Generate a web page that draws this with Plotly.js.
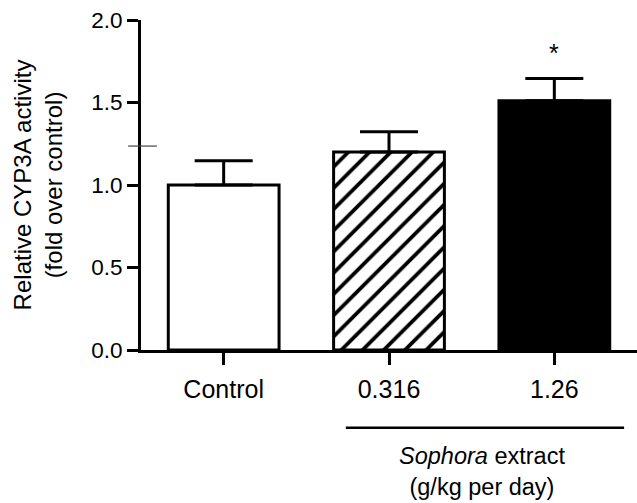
<!DOCTYPE html>
<html>
<head>
<meta charset="utf-8">
<script src="https://cdn.plot.ly/plotly-3.0.1.min.js"></script>
<style>html,body{margin:0;padding:0;background:#fff;}</style>
</head>
<body>
<div id="chart" style="width:637px;height:503px;"></div>
<script>
// ---- data ----
var categories = ['Control', '0.316', '1.26'];
var activity = [1.0, 1.2, 1.51];
var errorUpper = [0.147, 0.122, 0.136];
var fillColors = ['#ffffff', '#ffffff', '#000000'];
var patterns = ['', '/', ''];
var yTickVals = [0, 0.5, 1.0, 1.5, 2.0];
var yTickText = ['0.0', '0.5', '1.0', '1.5', '2.0'];
var significance = ['', '', '*'];

var FONT = 'Arial, "Liberation Sans", Helvetica, sans-serif';
var FS = 24;

var traces = [];
for (var k = 0; k < categories.length; k++) {
  var mk = {
    color: fillColors[k],
    line: {color: '#000', width: 3}
  };
  if (patterns[k]) {
    mk.pattern = {shape: patterns[k], fgcolor: '#000000', bgcolor: fillColors[k], size: 15, solidity: 0.25, fillmode: 'replace'};
  }
  traces.push({
    type: 'bar',
    x: [categories[k]],
    y: [activity[k]],
    width: 0.67,
    marker: mk,
    error_y: {
      type: 'data', symmetric: false,
      array: [errorUpper[k]], arrayminus: [0],
      color: '#000', thickness: 3, width: 29
    },
    hoverinfo: 'none',
    showlegend: false
  });
}

var annotations = [];
for (var i = 0; i < categories.length; i++) {
  if (significance[i]) {
    annotations.push({
      x: i, y: activity[i] + errorUpper[i], xref: 'x', yref: 'y',
      text: significance[i], showarrow: false, yanchor: 'bottom', yshift: 9,
      font: {family: FONT, size: 25, color: '#000'}
    });
  }
}
annotations.push({
  xref: 'paper', yref: 'paper', x: 0.6875, y: -0.369,
  xanchor: 'center', yanchor: 'middle', showarrow: false,
  text: '<i>Sophora</i> extract<br>(g/kg per day)',
  font: {family: FONT, size: 23.5, color: '#000'}
});

var layout = {
  width: 637, height: 503,
  margin: {l: 141, r: 0, t: 20, b: 153, pad: 0},
  paper_bgcolor: '#fff', plot_bgcolor: '#fff',
  font: {family: FONT, size: FS, color: '#000'},
  barmode: 'overlay',
  xaxis: {
    type: 'category', range: [-0.5, 2.5], categoryorder: 'array', categoryarray: categories,
    showline: true, linecolor: '#000', linewidth: 3,
    ticks: 'outside', ticklen: 12, tickwidth: 3, tickcolor: '#000',
    showgrid: false, zeroline: false,
    tickfont: {family: FONT, size: 25, color: '#000'},
    ticklabelstandoff: 3,
    fixedrange: true
  },
  yaxis: {
    range: [0, 2], tickvals: yTickVals, ticktext: yTickText,
    showline: true, linecolor: '#000', linewidth: 3,
    ticks: 'outside', ticklen: 11, tickwidth: 3, tickcolor: '#000',
    showgrid: false, zeroline: false,
    tickfont: {family: FONT, size: 22.5, color: '#000'},
    title: {text: 'Relative CYP3A activity<br>(fold over control)', font: {family: FONT, size: FS, color: '#000'}, standoff: 22},
    fixedrange: true
  },
  shapes: [
    {type: 'line', xref: 'paper', yref: 'paper', x0: 0.413, x1: 0.974, y0: -0.2355, y1: -0.2355,
     line: {color: '#000', width: 2.5}},
    {type: 'line', xref: 'paper', yref: 'y', x0: -0.026, x1: 0.032, y0: 1.236, y1: 1.236,
     line: {color: '#444', width: 1.2}}
  ],
  annotations: annotations
};

Plotly.newPlot('chart', traces, layout, {displayModeBar: false});
</script>
</body>
</html>
